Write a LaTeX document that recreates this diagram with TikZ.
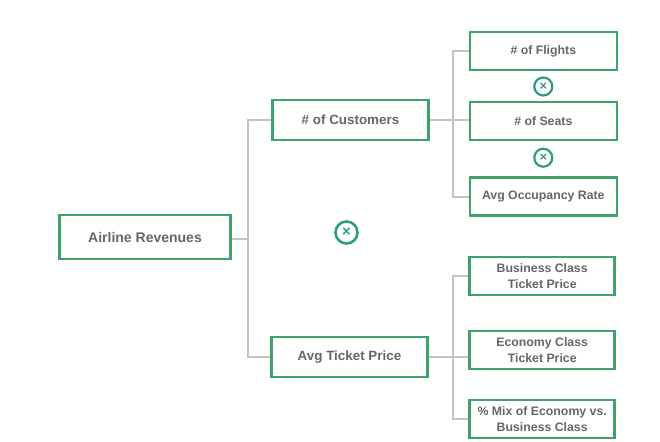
\documentclass[tikz,border=0pt]{standalone}
\usepackage{fontspec}
\setmainfont{Liberation Sans}
\usepackage{tikz}
\usetikzlibrary{positioning}

\definecolor{boxgreen}{HTML}{3DA36A}
\definecolor{timesteal}{HTML}{2E9C83}
\definecolor{linegray}{HTML}{C4C4C4}
\definecolor{textgray}{HTML}{666668}

\begin{document}
\begin{tikzpicture}[
            x=1pt, y=-1pt,
            squarednode/.style={rectangle, draw=boxgreen, line width=2.6pt, text=textgray,
                font=\bfseries\fontsize{13.4}{15}\selectfont, align=center,
                minimum width=156pt, minimum height=40pt, inner sep=0pt},
            leafnode/.style={squarednode, font=\bfseries\fontsize{12.3}{15.8}\selectfont,
                minimum width=147pt, minimum height=38pt},
            timesnode/.style={circle, draw=timesteal, line width=2.2pt, text=timesteal,
                font=\bfseries\fontsize{13}{13}\selectfont, minimum size=18pt, inner sep=0pt},
            conn/.style={draw=linegray, line width=2pt},
        ]
            \useasboundingbox (0,0) rectangle (660,441);
            % Nodes
            \node[squarednode, minimum width=171pt, minimum height=44pt, font=\bfseries\fontsize{14}{15}\selectfont] (revenues) at (145,237) {Airline Revenues};
            \node[squarednode] (customers) at (350.5,120) {\# of Customers};
            \node[squarednode] (ticketprice) at (349.5,357) {Avg Ticket Price};

            \node[leafnode] (flights) at (543.3,51) {\# of Flights};
            \node[leafnode] (seats) at (543.3,121) {\# of Seats};
            \node[leafnode] (occupancy) at (543.3,196.5) {Avg Occupancy Rate};

            \node[leafnode, minimum width=145pt] (business) at (542.2,276) {Business Class\\Ticket Price};
            \node[leafnode, minimum width=145pt] (economy) at (542.2,350) {Economy Class\\Ticket Price};
            \node[leafnode, minimum width=145pt] (mix) at (542.2,419) {\% Mix of Economy vs.\\Business Class};

            \node[timesnode] (timesa) at (543.3,86.5) {×};
            \node[timesnode] (timesb) at (543.3,157.7) {×};
            \node[timesnode, minimum size=22pt, line width=2.6pt, font=\bfseries\fontsize{15}{15}\selectfont] (timesc) at (346.5,232.5) {×};

            % Lines
            \coordinate (trunkleft) at (248,239);
            \coordinate (trunkup) at (453,120);
            \coordinate (trunkdown) at (453,352);
            \draw[conn] (revenues.east |- trunkleft) -- (trunkleft);
            \draw[conn] (customers.west) -| (trunkleft) |- (ticketprice.west);

            \draw[conn] (customers.east) -- (customers.east -| seats.west);
            \draw[conn] (flights.west) -| (trunkup) |- (occupancy.west);

            \draw[conn] (ticketprice.east) -- (ticketprice.east -| economy.west);
            \draw[conn] (business.west) -| (trunkdown) |- (mix.west);
        \end{tikzpicture}
\end{document}
